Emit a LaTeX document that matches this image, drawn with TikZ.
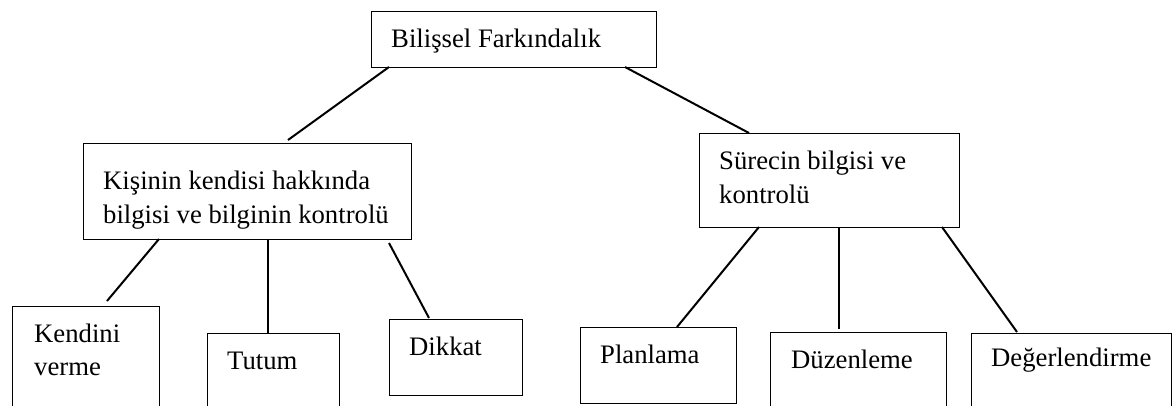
\documentclass[tikz,border=0pt]{standalone}
\usepackage{fontspec}
\setmainfont{Liberation Serif}
\begin{document}
\begin{tikzpicture}[x=1pt,y=-1pt,
  box/.style={draw=black,line width=1pt,inner sep=0pt,anchor=north west},
  txt/.style={anchor=base west,inner sep=0pt,font=\fontsize{26.7}{34}\selectfont},
  conn/.style={draw=black,line width=2pt}]
\useasboundingbox (0,0) rectangle (1172,405);
\clip (0,0) rectangle (1172,405);
% boxes
\node[box,minimum width=285pt,minimum height=56pt] (top) at (371,11) {};
\node[box,minimum width=328pt,minimum height=96pt] (left) at (83,143) {};
\node[box,minimum width=260pt,minimum height=94pt] (right) at (699,133) {};
\node[box,minimum width=147pt,minimum height=120pt] (kendini) at (12,306) {};
\node[box,minimum width=132pt,minimum height=90pt] (tutum) at (207,333) {};
\node[box,minimum width=133pt,minimum height=76pt] (dikkat) at (389,319) {};
\node[box,minimum width=156pt,minimum height=76pt] (planlama) at (580,327) {};
\node[box,minimum width=176pt,minimum height=90pt] (duzenleme) at (770,332) {};
\node[box,minimum width=200pt,minimum height=90pt] (degerl) at (971,333) {};
% texts
\node[txt] (ttop) at (391,47) {Bilişsel Farkındalık};
\node[txt] (tleft1) at (103,189) {Kişinin kendisi hakkında};
\node[txt] (tleft2) at (103,223) {bilgisi ve bilginin kontrolü};
\node[txt] (tright1) at (719,169) {Sürecin bilgisi ve};
\node[txt] (tright2) at (719,203) {kontrolü};
\node[txt] (tkend1) at (34,342) {Kendini};
\node[txt] (tkend2) at (34,375) {verme};
\node[txt] (ttutum) at (227,369) {Tutum};
\node[txt] (tdikkat) at (409,355) {Dikkat};
\node[txt] (tplan) at (600,363) {Planlama};
\node[txt] (tduz) at (791,368) {Düzenleme};
\node[txt] (tdeg) at (991,366) {Değerlendirme};
% connector end points
\coordinate (c1a) at (389,67);  \coordinate (c1b) at (288,140);
\coordinate (c2a) at (625,67);  \coordinate (c2b) at (749,133);
\coordinate (c3a) at (159,239); \coordinate (c3b) at (107,301);
\coordinate (c4a) at (268,239); \coordinate (c4b) at (268,333);
\coordinate (c5a) at (389,243); \coordinate (c5b) at (429,318);
\coordinate (c6a) at (759,227); \coordinate (c6b) at (677,327);
\coordinate (c7a) at (839,227); \coordinate (c7b) at (839,329);
\coordinate (c8a) at (942,227); \coordinate (c8b) at (1017,332);
\draw[conn] (c1a) -- (c1b);
\draw[conn] (c2a) -- (c2b);
\draw[conn] (c3a) -- (c3b);
\draw[conn] (c4a) -- (c4b);
\draw[conn] (c5a) -- (c5b);
\draw[conn] (c6a) -- (c6b);
\draw[conn] (c7a) -- (c7b);
\draw[conn] (c8a) -- (c8b);
\end{tikzpicture}
\end{document}
